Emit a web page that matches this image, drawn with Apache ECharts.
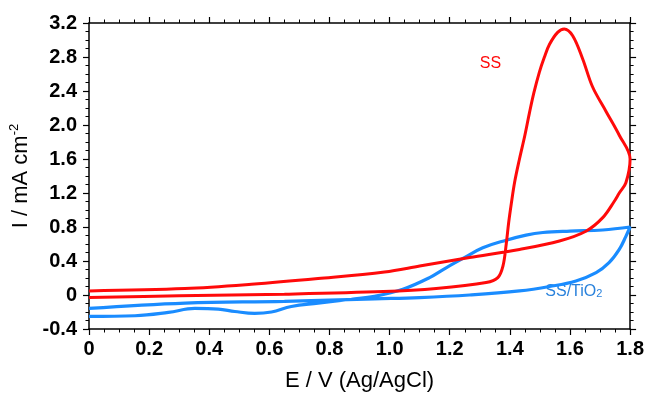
<!DOCTYPE html>
<html>
<head>
<meta charset="utf-8">
<script src="https://cdn.jsdelivr.net/npm/echarts@6/dist/echarts.min.js"></script>
<style>
  html, body { margin: 0; padding: 0; background: #fff; }
  #chart { width: 647px; height: 397px; }
</style>
</head>
<body>
<div id="chart"></div>
<script>
// SS: forward scan then reverse scan
const ssPotential = [
  0, 0.3, 0.65, 0.98, 1.155, 1.321, 1.36, 1.377, 1.388, 1.396, 1.405, 1.416, 1.432, 1.45,
  1.465, 1.48, 1.498, 1.515, 1.532, 1.559, 1.581, 1.609, 1.642, 1.675, 1.72, 1.764, 1.8,
  1.786, 1.764, 1.747, 1.709, 1.653, 1.565, 1.432, 1.266, 1.1, 0.983, 0.762, 0.54, 0.319, 0
];
const ssCurrent = [
  -0.03, -0.01, 0.01, 0.04, 0.076, 0.146, 0.205, 0.34, 0.6, 0.85, 1.08, 1.33, 1.6, 1.88,
  2.14, 2.38, 2.62, 2.8, 2.95, 3.09, 3.13, 3.05, 2.78, 2.45, 2.16, 1.88, 1.6,
  1.32, 1.2, 1.1, 0.91, 0.75, 0.635, 0.536, 0.44, 0.34, 0.27, 0.193, 0.126, 0.076, 0.048
];

// SS/TiO2: forward scan then reverse scan
const tiPotential = [
  0, 0.153, 0.264, 0.352, 0.43, 0.485, 0.551, 0.607, 0.673, 0.762, 0.873, 0.95, 1.044,
  1.133, 1.188, 1.244, 1.31, 1.388, 1.454, 1.51, 1.6, 1.709, 1.8,
  1.786, 1.764, 1.73, 1.687, 1.62, 1.532, 1.432, 1.266, 1.1, 0.95, 0.65, 0.32, 0
];
const tiCurrent = [
  -0.252, -0.244, -0.205, -0.158, -0.166, -0.194, -0.217, -0.2, -0.135, -0.096, -0.05, -0.015, 0.068,
  0.205, 0.32, 0.43, 0.555, 0.645, 0.705, 0.735, 0.752, 0.765, 0.8,
  0.69, 0.536, 0.38, 0.263, 0.165, 0.1, 0.048, 0.0, -0.03, -0.045, -0.075, -0.095, -0.158
];

const xMin = 0, xMax = 1.8, xStep = 0.2;
const yMin = -0.4, yMax = 3.2, yStep = 0.4;

const ssData = ssPotential.map((e, i) => [e, ssCurrent[i]]);
const tiData = tiPotential.map((e, i) => [e, tiCurrent[i]]);

const chart = echarts.init(document.getElementById("chart"));
const font = "'Liberation Sans', Arial, sans-serif";
const red = "#ff0a0a";
const blue = "#1a8cff";

const tickFmt = (v) => (Math.abs(v) < 1e-9 ? "0" : v.toFixed(1));
const axisCommon = {
  axisLine: { onZero: false, lineStyle: { color: "#000", width: 1.5 } },
  axisTick: { inside: false, length: 6, lineStyle: { color: "#000", width: 1.2 } },
  minorTick: { show: true, splitNumber: 4, length: 3.5, lineStyle: { color: "#000", width: 1 } },
  splitLine: { show: false },
};

const option = {
  animation: false,
  backgroundColor: "#fff",
  grid: { left: 89, right: 16, top: 23, bottom: 67 },
  xAxis: [
    {
      type: "value", min: xMin, max: xMax, interval: xStep, position: "bottom",
      ...axisCommon,
      axisLabel: { margin: 10, color: "#000", fontSize: 20, fontWeight: "bold", fontFamily: font, formatter: tickFmt },
      name: "E / V (Ag/AgCl)", nameLocation: "middle", nameGap: 41,
      nameTextStyle: { color: "#000", fontSize: 22, fontFamily: font },
    },
    {
      type: "value", min: xMin, max: xMax, interval: xStep, position: "top",
      ...axisCommon, axisLabel: { show: false },
    },
  ],
  yAxis: [
    {
      type: "value", min: yMin, max: yMax, interval: yStep, position: "left",
      ...axisCommon,
      axisLabel: { margin: 12, color: "#000", fontSize: 20, fontWeight: "bold", fontFamily: font, formatter: tickFmt },
      name: "{a|I / mA cm}{s|-2}", nameLocation: "middle", nameGap: 52, nameRotate: 90,
      nameTextStyle: {
        color: "#000", fontFamily: font,
        rich: {
          a: { fontSize: 22, fontFamily: font, color: "#000" },
          s: { fontSize: 13, fontFamily: font, color: "#000", verticalAlign: "top", padding: [0, 0, 12, 0] },
        },
      },
    },
    {
      type: "value", min: yMin, max: yMax, interval: yStep, position: "right",
      ...axisCommon, axisLabel: { show: false },
    },
  ],
  series: [
    {
      name: "SS", type: "line", data: ssData, showSymbol: false, smooth: 0.35,
      lineStyle: { color: red, width: 3 }, z: 3,
    },
    {
      name: "SS/TiO2", type: "line", data: tiData, showSymbol: false, smooth: 0.4,
      lineStyle: { color: blue, width: 3.2 }, z: 2,
    },
  ],
};

chart.setOption(option);

// curve labels placed in data coordinates
const ssPos = chart.convertToPixel({ xAxisIndex: 0, yAxisIndex: 0 }, [1.3, 2.72]);
const tiPos = chart.convertToPixel({ xAxisIndex: 0, yAxisIndex: 0 }, [1.518, 0.045]);
chart.setOption({
  graphic: [
    {
      type: "text", x: ssPos[0], y: ssPos[1],
      style: { text: "SS", fill: red, font: "16px " + font, verticalAlign: "middle" },
    },
    {
      type: "text", x: tiPos[0], y: tiPos[1],
      style: {
        text: "{a|SS/TiO}{b|2}", verticalAlign: "middle",
        rich: {
          a: { fontSize: 16, fontFamily: font, fill: "#2a82dc" },
          b: { fontSize: 11, fontFamily: font, fill: "#2a82dc", verticalAlign: "bottom", padding: [6, 0, 0, 0] },
        },
      },
    },
  ],
});
</script>
</body>
</html>
